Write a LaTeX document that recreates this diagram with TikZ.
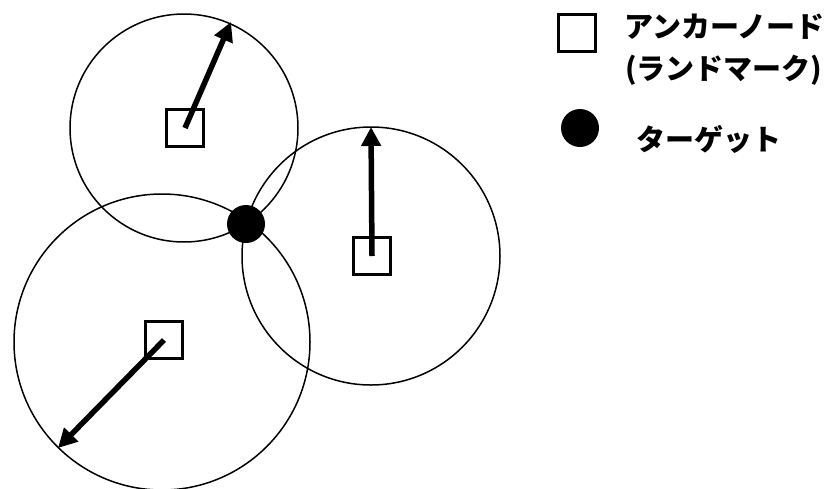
\documentclass[tikz,border=0pt]{standalone}
\usepackage{fontspec}
\newfontfamily\jp{Noto Sans CJK JP}
\usetikzlibrary{arrows.meta}
\begin{document}
\begin{tikzpicture}[x=1pt,y=-1pt,
  ring/.style={draw,line width=1.5pt},
  anchorbox/.style={draw,line width=3.2pt,minimum size=37pt,inner sep=0pt},
  target/.style={circle,fill=black,minimum size=38pt,inner sep=0pt},
  radius arrow/.style={line width=5.5pt,-{Triangle[length=19pt,width=19pt]}},
  legendtext/.style={font=\jp\bfseries\fontsize{29}{34}\selectfont,anchor=west,inner sep=0pt}]
\useasboundingbox (0,0) rectangle (830,488);
% circles
\draw[ring] (184,128) circle[radius=114];
\draw[ring] (371,256) circle[radius=129];
\draw[ring] (162,342) circle[radius=148];
% anchors
\node[anchorbox] (a1) at (185,128) {};
\node[anchorbox] (a2) at (372,256) {};
\node[anchorbox] (a3) at (164,340) {};
% arrow ends
\coordinate (e1) at (231,22);
\coordinate (e2) at (371,127);
\coordinate (e3) at (58,448);
\draw[radius arrow] (a1.center) -- (e1);
\draw[radius arrow] (a2.center) -- (e2);
\draw[radius arrow] (a3.center) -- (e3);
% target
\node[target] (t) at (246,224) {};
% legend
\node[anchorbox] (lsq) at (577,33) {};
\node[target] (ldot) at (580,128) {};
\node[legendtext] (l1) at (624,27) {アンカーノード};
\node[legendtext] (l2) at (625,70) {(ランドマーク)};
\node[legendtext] (l3) at (636,139) {ターゲット};
\end{tikzpicture}
\end{document}
